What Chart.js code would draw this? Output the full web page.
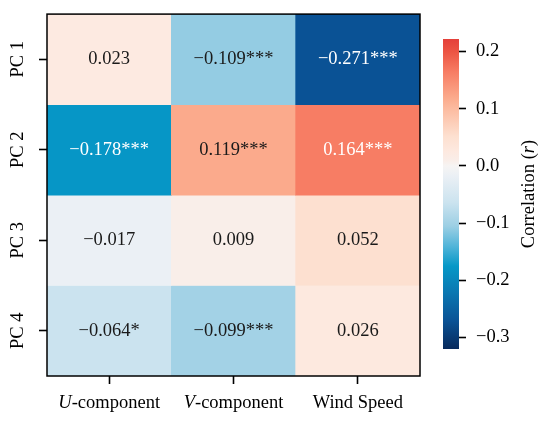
<!DOCTYPE html>
<html><head><meta charset="utf-8">
<script src="https://cdn.jsdelivr.net/npm/chart.js@4.4.0/dist/chart.umd.min.js"></script>
<style>
html,body{margin:0;padding:0;background:#fff;width:550px;height:423px;overflow:hidden;}
#wrap{position:relative;width:550px;height:423px;background:#fff;}
#main{position:absolute;left:0;top:0;}
#cbar{position:absolute;left:430px;top:0;}
</style></head><body>
<div id="wrap"><canvas id="main" width="440" height="423"></canvas><canvas id="cbar" width="120" height="423"></canvas></div>
<script>
// ---- data ----
const columns = ['U-component', 'V-component', 'Wind Speed'];
const italicPrefix = ['U', 'V', ''];
const rows = ['PC 1', 'PC 2', 'PC 3', 'PC 4'];
const pc1 = [0.023, -0.109, -0.271];
const pc2 = [-0.178, 0.119, 0.164];
const pc3 = [-0.017, 0.009, 0.052];
const pc4 = [-0.064, -0.099, 0.026];
const pc1Stars = ['', '***', '***'];
const pc2Stars = ['***', '***', '***'];
const pc3Stars = ['', '', ''];
const pc4Stars = ['*', '***', ''];
const cbarTicks = [-0.3, -0.2, -0.1, 0.0, 0.1, 0.2];
const vmin = -0.32, vmax = 0.222;
const cbarTitle = ['Correlation (', 'r', ')'];

const values = [pc1, pc2, pc3, pc4];
const stars = [pc1Stars, pc2Stars, pc3Stars, pc4Stars];

// ---- colour map (style) ----
const cmap = [
  [-0.32, '#082a5c'], [-0.27, '#0a5396'], [-0.22, '#0a78b2'], [-0.175, '#0698c7'],
  [-0.14, '#52b5d9'], [-0.105, '#9ccfe4'], [-0.064, '#cbe3ef'], [-0.017, '#ebf0f5'],
  [0, '#f6f4f3'], [0.009, '#f9eee9'], [0.025, '#fde9e0'], [0.052, '#fde0d0'],
  [0.1, '#fcbba0'], [0.119, '#fbaa8c'], [0.164, '#f77d64'], [0.2, '#ec5443'], [0.222, '#e4403a']
];
function hex2rgb(h){return [1,3,5].map(i=>parseInt(h.substr(i,2),16));}
function colorFor(v){
  if (v <= cmap[0][0]) return cmap[0][1];
  for (let i=1;i<cmap.length;i++){
    if (v <= cmap[i][0]){
      const t=(v-cmap[i-1][0])/(cmap[i][0]-cmap[i-1][0]);
      const a=hex2rgb(cmap[i-1][1]), b=hex2rgb(cmap[i][1]);
      const c=a.map((x,k)=>Math.round(x+(b[k]-x)*t));
      return `rgb(${c[0]},${c[1]},${c[2]})`;
    }
  }
  return cmap[cmap.length-1][1];
}
const FONT = '"Liberation Serif", "Times New Roman", serif';
const FS = 18.5;
function fmt(v, d){ const s = Math.abs(v).toFixed(d); return (v < 0 && Math.abs(v) > 1e-9) ? '\u2212' + s : s; }

// ---- plugins ----
const cellText = {
  id: 'cellText',
  afterDatasetsDraw(chart){
    const ctx = chart.ctx, a = chart.chartArea;
    ctx.save();
    ctx.font = `${FS}px ${FONT}`;
    ctx.textAlign = 'center'; ctx.textBaseline = 'middle';
    chart.data.datasets.forEach((ds, i) => {
      chart.getDatasetMeta(i).data.forEach((el, j) => {
        const p = el.getProps(['x','y','base'], true);
        const v = ds.values[j];
        ctx.fillStyle = Math.abs(v) > 0.15 ? '#ffffff' : '#1a1a1a';
        ctx.fillText(fmt(v, 3) + ds.stars[j], p.x, (p.y + p.base) / 2);
      });
    });
    ctx.lineWidth = 1.5; ctx.strokeStyle = '#000';
    ctx.strokeRect(a.left, a.top, a.right - a.left, a.bottom - a.top);
    ctx.restore();
  },
  afterDraw(chart){
    const ctx = chart.ctx, xs = chart.scales.x;
    ctx.save();
    ctx.fillStyle = '#000'; ctx.textBaseline = 'alphabetic'; ctx.textAlign = 'left';
    columns.forEach((lab, i) => {
      const px = xs.getPixelForTick(i);
      const it = italicPrefix[i], rest = lab.slice(it.length);
      ctx.font = `italic ${FS}px ${FONT}`; const w1 = ctx.measureText(it).width;
      ctx.font = `${FS}px ${FONT}`; const w2 = ctx.measureText(rest).width;
      let x = px - (w1 + w2) / 2;
      const y = xs.top + 32;
      ctx.font = `italic ${FS}px ${FONT}`; ctx.fillText(it, x, y);
      ctx.font = `${FS}px ${FONT}`; ctx.fillText(rest, x + w1, y);
    });
    ctx.restore();
  }
};

new Chart(document.getElementById('main'), {
  type: 'bar',
  data: {
    labels: columns,
    datasets: rows.map((r, i) => ({
      label: r,
      data: values[i].map(() => [i, i + 1]),
      values: values[i],
      stars: stars[i],
      backgroundColor: values[i].map(colorFor),
      borderWidth: 0,
      grouped: false,
      barPercentage: 1,
      categoryPercentage: 1
    }))
  },
  options: {
    responsive: false, animation: false,
    layout: { padding: { left: 0, top: 12, right: 20, bottom: 0 } },
    plugins: { legend: { display: false }, tooltip: { enabled: false } },
    scales: {
      x: {
        type: 'category', offset: true,
        afterFit: s => { s.height = 47; },
        grid: { display: true, offset: false, drawOnChartArea: false, drawTicks: true, tickLength: 8, tickWidth: 1.6, tickColor: '#000' },
        border: { display: false },
        ticks: { display: false }
      },
      y: {
        type: 'linear', min: 0, max: rows.length, reverse: true,
        afterFit: s => { s.width = 47; },
        afterBuildTicks: s => { s.ticks = rows.map((_, i) => ({ value: i + 0.5 })); },
        grid: { display: true, drawOnChartArea: false, drawTicks: true, tickLength: 8, tickWidth: 1.6, tickColor: '#000' },
        border: { display: false },
        ticks: {
          minRotation: 90, maxRotation: 90, crossAlign: 'center', padding: 3,
          color: '#000', font: { family: FONT, size: FS },
          callback: v => rows[Math.floor(v)]
        }
      }
    }
  },
  plugins: [cellText]
});

const cbarTitlePlugin = {
  id: 'cbarTitle',
  afterDraw(chart){
    const ctx = chart.ctx, a = chart.chartArea;
    ctx.save();
    ctx.translate(99, (a.top + a.bottom) / 2);
    ctx.rotate(-Math.PI / 2);
    ctx.fillStyle = '#000'; ctx.textBaseline = 'middle'; ctx.textAlign = 'left';
    const fonts = [`${FS}px ${FONT}`, `italic ${FS}px ${FONT}`, `${FS}px ${FONT}`];
    const ws = cbarTitle.map((t, k) => { ctx.font = fonts[k]; return ctx.measureText(t).width; });
    let x = -ws.reduce((p, c) => p + c, 0) / 2;
    cbarTitle.forEach((t, k) => { ctx.font = fonts[k]; ctx.fillText(t, x, 0); x += ws[k]; });
    ctx.restore();
  }
};

new Chart(document.getElementById('cbar'), {
  type: 'bar',
  data: {
    labels: [''],
    datasets: [{
      data: [[vmin, vmax]],
      backgroundColor: (c) => {
        const ch = c.chart;
        if (!ch.chartArea) return '#ccc';
        const ys = ch.scales.y;
        const g = ch.ctx.createLinearGradient(0, ys.getPixelForValue(vmin), 0, ys.getPixelForValue(vmax));
        cmap.forEach(s => g.addColorStop(Math.min(1, Math.max(0, (s[0] - vmin) / (vmax - vmin))), s[1]));
        return g;
      },
      borderWidth: 0, barPercentage: 1, categoryPercentage: 1
    }]
  },
  options: {
    responsive: false, animation: false,
    layout: { padding: { left: 13, top: 39, right: 0, bottom: 74 } },
    plugins: { legend: { display: false }, tooltip: { enabled: false } },
    scales: {
      x: { display: false },
      y: {
        type: 'linear', position: 'right', min: vmin, max: vmax,
        afterFit: s => { s.width = 91; },
        afterBuildTicks: s => { s.ticks = cbarTicks.map(v => ({ value: v })); },
        grid: { display: true, drawOnChartArea: false, drawTicks: true, tickLength: 7, tickWidth: 1.6, tickColor: '#000' },
        border: { display: false },
        ticks: { padding: 10, color: '#000', font: { family: FONT, size: FS }, callback: v => fmt(v, 1) }
      }
    }
  },
  plugins: [cbarTitlePlugin]
});
</script>
</body></html>
